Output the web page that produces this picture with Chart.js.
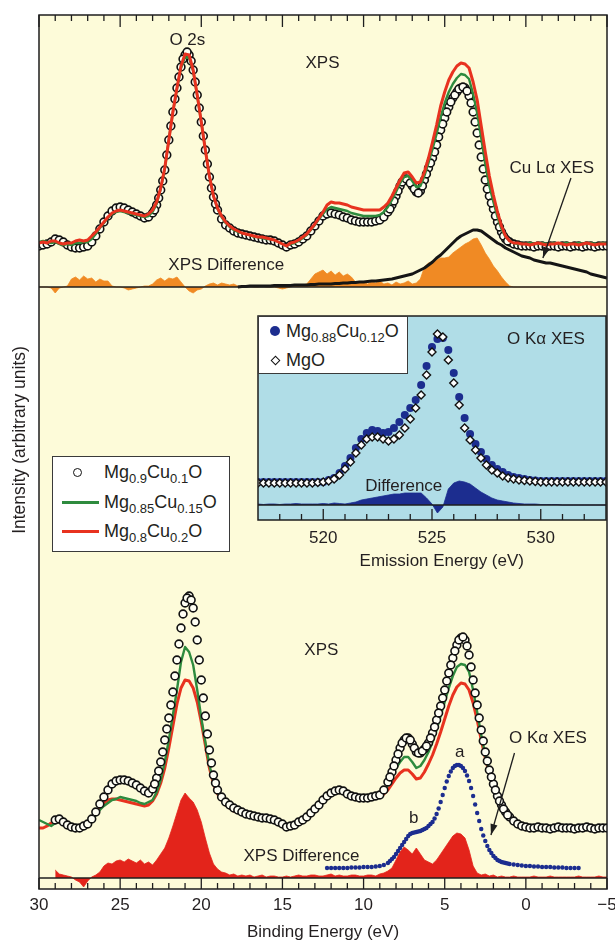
<!DOCTYPE html>
<html lang="en">
<head>
<meta charset="utf-8">
<title>XPS and XES spectra of Mg(1-x)Cu(x)O</title>
<script src="https://cdn.jsdelivr.net/npm/chart.js@4.4.1/dist/chart.umd.min.js"></script>
<style>
  html, body { margin: 0; padding: 0; background: #ffffff; }
  #figure { position: relative; width: 615px; height: 941px; overflow: hidden;
            font-family: "Liberation Sans", Arial, Helvetica, sans-serif; color: #231f20; }
  #figure canvas { position: absolute; left: 0; top: 0; }
  .key { position: absolute; background: #ffffff; border: 1px solid #3a3a3a; box-sizing: border-box; }
  .row { position: absolute; left: 0; width: 100%; height: 24px; }
  .label { position: absolute; top: 0; line-height: 24px; font-size: 18px; white-space: nowrap; }
  .label sub { font-size: 13px; vertical-align: -5px; line-height: 0; }
  .sym { position: absolute; top: 50%; box-sizing: border-box; }
</style>
</head>
<body>
<div id="figure">
  <canvas id="spectra" width="615" height="941"></canvas>
  <canvas id="oxygen" width="615" height="941"></canvas>

  <div class="key" style="left:52px;top:456px;width:178px;height:96px;">
    <div class="row" style="top:3px;">
      <span class="sym" style="left:20px;width:9px;height:9px;margin-top:-4.5px;border:1.5px solid #111;border-radius:50%;background:#fff;"></span>
      <span class="label" style="left:51px;">Mg<sub>0.9</sub>Cu<sub>0.1</sub>O</span>
    </div>
    <div class="row" style="top:33px;">
      <span class="sym" style="left:9px;width:37px;height:3px;margin-top:-1.5px;background:#2e8b3e;"></span>
      <span class="label" style="left:51px;">Mg<sub>0.85</sub>Cu<sub>0.15</sub>O</span>
    </div>
    <div class="row" style="top:62px;">
      <span class="sym" style="left:9px;width:37px;height:3px;margin-top:-1.5px;background:#e8321f;"></span>
      <span class="label" style="left:51px;">Mg<sub>0.8</sub>Cu<sub>0.2</sub>O</span>
    </div>
  </div>

  <div class="key" style="left:258px;top:316px;width:150px;height:58px;">
    <div class="row" style="top:2px;">
      <span class="sym" style="left:11px;width:10px;height:10px;margin-top:-5px;border-radius:50%;background:#1c2d8f;"></span>
      <span class="label" style="left:27px;">Mg<sub>0.88</sub>Cu<sub>0.12</sub>O</span>
    </div>
    <div class="row" style="top:31px;">
      <span class="sym" style="left:13px;width:7px;height:7px;margin-top:-3.5px;border:1.5px solid #111;background:#fff;transform:rotate(45deg);"></span>
      <span class="label" style="left:27px;">MgO</span>
    </div>
  </div>
</div>

<script>
// ---- Binding-energy grid shared by every XPS / XES trace (eV) ----
const bindingEnergy = [
  30, 29.75, 29.5, 29.25, 29, 28.75, 28.5, 28.25, 28, 27.75,
  27.5, 27.25, 27, 26.75, 26.5, 26.25, 26, 25.75, 25.5, 25.25,
  25, 24.75, 24.5, 24.25, 24, 23.75, 23.5, 23.25, 23, 22.75,
  22.5, 22.25, 22, 21.75, 21.5, 21.25, 21, 20.75, 20.5, 20.25,
  20, 19.75, 19.5, 19.25, 19, 18.75, 18.5, 18.25, 18, 17.75,
  17.5, 17.25, 17, 16.75, 16.5, 16.25, 16, 15.75, 15.5, 15.25,
  15, 14.75, 14.5, 14.25, 14, 13.75, 13.5, 13.25, 13, 12.75,
  12.5, 12.25, 12, 11.75, 11.5, 11.25, 11, 10.75, 10.5, 10.25,
  10, 9.75, 9.5, 9.25, 9, 8.75, 8.5, 8.25, 8, 7.75,
  7.5, 7.25, 7, 6.75, 6.5, 6.25, 6, 5.75, 5.5, 5.25,
  5, 4.75, 4.5, 4.25, 4, 3.75, 3.5, 3.25, 3, 2.75,
  2.5, 2.25, 2, 1.75, 1.5, 1.25, 1, 0.75, 0.5, 0.25,
  0, -0.25, -0.5, -0.75, -1, -1.25, -1.5, -1.75, -2, -2.25,
  -2.5, -2.75, -3, -3.25, -3.5, -3.75, -4, -4.25, -4.5, -4.75,
  -5
];
// Extra sampling energies of the Mg0.9Cu0.1O scans across the two main bands (eV)
const peakEnergy = [
  22.875, 22.625, 22.375, 22.125, 21.875, 21.625, 21.375, 21.125,
  20.875, 20.625, 20.375, 20.125, 19.875, 19.625, 19.375, 19.125,
  8.375, 8.125, 7.875, 7.625, 7.375, 7.125, 6.875, 6.625, 6.375, 6.125,
  5.875, 5.625, 5.375, 5.125, 4.875, 4.625, 4.375, 4.125, 3.875, 3.625,
  3.375, 3.125, 2.875, 2.625, 2.375, 2.125, 1.875, 1.625, 1.375, 1.125
];

// ---- Upper panel (intensity, arbitrary units) ----
const upperCu10 = [
  4.1, 4.2, 4.3, 4.5, 4.8, 4.7, 4.5, 4.2, 4.0, 3.9,
  3.9, 4.0, 4.1, 4.5, 5.1, 5.8, 6.5, 7.1, 7.6, 7.9,
  8.0, 7.9, 7.7, 7.5, 7.3, 7.1, 6.9, 7.0, 7.4, 8.2,
  9.7, 11.7, 14.7, 17.5, 19.9, 22.0, 23.2, 23.2, 21.7, 19.2,
  16.5, 13.7, 11.0, 9.0, 7.7, 6.8, 6.2, 5.9, 5.6, 5.4,
  5.3, 5.2, 5.1, 5.0, 4.9, 4.8, 4.7, 4.7, 4.6, 4.4,
  4.2, 4.0, 4.2, 4.3, 4.5, 4.8, 5.1, 5.6, 6.1, 6.6,
  7.1, 7.3, 7.4, 7.3, 7.2, 7.0, 6.9, 6.7, 6.6, 6.5,
  6.5, 6.5, 6.5, 6.6, 6.7, 7.0, 7.5, 8.2, 9.1, 10.1,
  10.7, 10.7, 10.1, 9.5, 9.6, 10.7, 11.9, 12.9, 14.2, 15.7,
  16.9, 18.0, 18.9, 19.5, 19.9, 19.9, 19.1, 17.5, 15.4, 13.0,
  10.7, 9.1, 7.8, 6.5, 5.5, 4.8, 4.5, 4.3, 4.2, 4.1,
  4.1, 4.1, 4.0, 4.1, 4.1, 4.0, 4.1, 4.1, 4.0, 4.1,
  4.1, 4.0, 4.1, 4.1, 4.0, 4.1, 4.1, 4.0, 4.1, 4.1,
  4.1
];
const upperCu10Peaks = [
  7.7, 8.9, 10.6, 13.2, 16.1, 18.8, 21.0, 22.8,
  23.5, 22.6, 20.5, 17.9, 15.1, 12.3, 9.9, 8.3,
  7.8, 8.6, 9.6, 10.5, 10.8, 10.4, 9.8, 9.4, 10.1, 11.3,
  12.4, 13.5, 15.0, 16.3, 17.5, 18.5, 19.2, 19.8, 20.0, 19.6,
  18.4, 16.5, 14.2, 11.8, 9.8, 8.4, 7.1, 6.0, 5.1, 4.6
];
const upperCu15 = [
  4.5, 4.6, 4.5, 4.4, 4.5, 4.3, 4.2, 4.3, 4.2, 4.4,
  4.4, 4.5, 4.5, 4.8, 5.3, 5.9, 6.4, 6.9, 7.3, 7.5,
  7.6, 7.5, 7.4, 7.3, 7.2, 7.1, 7.0, 7.1, 7.5, 8.3,
  9.8, 11.8, 14.7, 17.5, 19.8, 21.9, 23.0, 22.9, 21.6, 19.1,
  16.5, 13.7, 11.1, 9.1, 7.8, 7.0, 6.4, 6.0, 5.7, 5.5,
  5.4, 5.3, 5.2, 5.0, 5.0, 4.9, 4.8, 4.8, 4.7, 4.5,
  4.3, 4.1, 4.3, 4.4, 4.6, 4.9, 5.2, 5.7, 6.2, 6.8,
  7.3, 7.8, 8.0, 7.9, 7.8, 7.7, 7.6, 7.4, 7.3, 7.2,
  7.1, 7.1, 7.1, 7.1, 7.2, 7.5, 8.0, 8.7, 9.5, 10.4,
  11.0, 11.1, 10.6, 10.0, 10.1, 11.1, 12.4, 13.8, 15.3, 17.0,
  18.4, 19.5, 20.3, 20.9, 21.3, 21.2, 20.8, 19.3, 17.4, 14.9,
  12.3, 10.1, 8.5, 7.0, 5.8, 5.0, 4.6, 4.4, 4.3, 4.3,
  4.3, 4.4, 4.3, 4.3, 4.4, 4.3, 4.3, 4.4, 4.3, 4.3,
  4.4, 4.3, 4.3, 4.4, 4.3, 4.3, 4.4, 4.3, 4.3, 4.4,
  4.3
];
const upperCu20 = [
  4.4, 4.5, 4.4, 4.6, 4.6, 4.4, 4.3, 4.4, 4.4, 4.6,
  4.7, 4.6, 4.7, 5.1, 5.5, 6.0, 6.5, 7.0, 7.4, 7.6,
  7.7, 7.6, 7.5, 7.4, 7.3, 7.2, 7.1, 7.3, 7.7, 8.5,
  9.9, 11.9, 14.7, 17.5, 19.9, 22.1, 23.3, 23.2, 21.7, 19.2,
  16.5, 13.7, 11.1, 9.1, 7.9, 7.1, 6.5, 6.1, 5.8, 5.6,
  5.4, 5.3, 5.2, 5.1, 5.0, 5.0, 4.9, 4.8, 4.7, 4.5,
  4.3, 4.1, 4.4, 4.5, 4.7, 5.0, 5.3, 5.8, 6.3, 6.9,
  7.5, 8.2, 8.5, 8.4, 8.4, 8.3, 8.2, 8.0, 7.9, 7.8,
  7.7, 7.7, 7.7, 7.7, 7.7, 8.0, 8.4, 9.1, 9.9, 10.7,
  11.4, 11.5, 11.0, 10.4, 10.5, 11.5, 12.9, 14.5, 16.2, 18.1,
  19.5, 20.7, 21.5, 22.1, 22.4, 22.3, 21.9, 20.5, 18.7, 16.1,
  13.5, 11.1, 9.2, 7.5, 6.1, 5.1, 4.6, 4.4, 4.4, 4.3,
  4.3, 4.2, 4.3, 4.4, 4.3, 4.2, 4.3, 4.3, 4.4, 4.3,
  4.2, 4.3, 4.3, 4.2, 4.3, 4.4, 4.3, 4.2, 4.3, 4.3,
  4.3
];
const upperCuLaXes = [
  null, null, null, null, null, null, null, null, null, null,
  null, null, null, null, null, null, null, null, null, null,
  null, null, null, null, null, null, null, null, null, null,
  null, null, null, null, null, null, null, null, null, null,
  null, null, null, null, null, null, null, null, null, 0.0,
  0.05, 0.05, 0.1, 0.1, 0.1, 0.1, 0.1, 0.1, 0.15, 0.15,
  0.15, 0.15, 0.15, 0.2, 0.2, 0.2, 0.2, 0.25, 0.25, 0.3,
  0.3, 0.3, 0.3, 0.35, 0.35, 0.4, 0.4, 0.45, 0.45, 0.5,
  0.5, 0.55, 0.6, 0.6, 0.65, 0.7, 0.75, 0.8, 0.9, 1.0,
  1.1, 1.2, 1.3, 1.5, 1.7, 1.9, 2.2, 2.5, 2.9, 3.2,
  3.6, 4.0, 4.4, 4.8, 5.1, 5.3, 5.5, 5.7, 5.7, 5.6,
  5.3, 5.0, 4.7, 4.4, 4.2, 3.9, 3.7, 3.5, 3.3, 3.1,
  3.0, 2.9, 2.7, 2.6, 2.5, 2.4, 2.4, 2.3, 2.2, 2.1,
  2.0, 1.9, 1.8, 1.7, 1.6, 1.5, 1.3, 1.2, 1.1, 1.0,
  0.9
];
const upperDifference = [
  0, 0, 0, -0.1, -0.6, -0.1, 0, 0.1, 0.8, 1.0,
  0.7, 1.1, 0.8, 0.9, 0.5, 0.8, 0.6, 0.6, 0.1, 0,
  0, -0.1, -0.3, -0.2, -0.1, 0, 0.1, 0.1, 0.3, 0.7,
  0.9, 0.6, 0.9, 0.8, 1.0, 0.5, 0, -0.4, -0.6, -0.3,
  -0.2, 0.1, 0.3, 0.4, 0.2, 0.4, 0.3, 0.2, 0.3, 0.1,
  0.1, 0, 0.1, 0, 0, 0.1, 0, 0, 0, -0.1,
  -0.2, -0.1, 0, 0.1, 0.1, 0.2, 0.3, 0.8, 1.3, 1.5,
  1.7, 1.3, 1.6, 1.2, 1.5, 1.1, 1.3, 1.0, 0.5, 0.4,
  0.5, 0.3, 0.5, 0.4, 0.6, 0.3, 0.4, 0.2, 0.5, 0.3,
  0.4, 0.6, 0.3, 0.4, 0.8, 2.0, 2.4, 2.5, 2.7, 2.9,
  2.9, 3.0, 3.4, 3.7, 4.0, 4.3, 4.5, 4.8, 4.9, 4.2,
  3.4, 2.8, 2.1, 1.6, 1.0, 0.5, 0.1, 0, 0, 0,
  0, 0, 0, 0, 0, 0, 0, 0, 0, 0,
  0, 0, 0, 0, 0, 0, 0, 0, 0, 0,
  0
];

// ---- Lower panel (intensity, arbitrary units) ----
const lowerCu10 = [
  null, null, null, null, 5.8, 5.9, 5.6, 5.3, 5.1, 5.0,
  5.0, 5.2, 5.4, 5.9, 6.6, 7.4, 8.1, 8.8, 9.4, 9.7,
  9.8, 9.8, 9.7, 9.5, 9.3, 9.0, 8.7, 8.5, 8.9, 10.0,
  11.6, 13.8, 16.0, 18.6, 21.8, 25.0, 27.5, 28.2, 27.0, 23.8,
  19.8, 16.2, 12.8, 10.3, 8.8, 8.1, 7.6, 7.3, 7.0, 6.8,
  6.6, 6.4, 6.3, 6.2, 6.1, 6.0, 6.0, 5.9, 5.8, 5.6,
  5.4, 5.1, 5.2, 5.3, 5.6, 5.8, 6.1, 6.5, 6.9, 7.3,
  7.8, 8.2, 8.5, 8.7, 8.8, 8.7, 8.4, 8.2, 8.1, 8.0,
  8.0, 8.0, 8.1, 8.2, 8.3, 8.8, 9.6, 10.6, 11.8, 13.0,
  13.8, 14.0, 13.4, 12.6, 12.5, 12.9, 13.5, 14.5, 15.8, 17.2,
  18.8, 20.5, 22.0, 23.3, 24.0, 23.8, 22.3, 19.8, 17.3, 14.8,
  12.6, 10.8, 9.4, 8.2, 7.3, 6.6, 6.1, 5.7, 5.4, 5.2,
  5.1, 5.0, 5.0, 5.1, 5.0, 5.0, 4.9, 5.0, 5.1, 5.0,
  5.0, 5.0, 4.9, 5.0, 5.0, 5.1, 5.0, 4.9, 5.0, 5.0,
  5.0
];
const lowerCu10Peaks = [
  9.4, 10.7, 12.6, 14.9, 17.3, 20.2, 23.4, 26.4,
  28.0, 27.8, 25.6, 21.8, 18.0, 14.4, 11.5, 9.5,
  10.1, 11.2, 12.4, 13.5, 14.0, 13.8, 13.0, 12.5, 12.7, 13.2,
  14.0, 15.1, 16.5, 18.0, 19.7, 21.3, 22.7, 23.8, 24.1, 23.2,
  21.1, 18.5, 16.0, 13.7, 11.7, 10.1, 8.8, 7.7, 6.9, 6.3
];
const lowerCu15 = [
  5.8, 5.6, 5.4, 5.2, 5.5, 5.6, 5.6, 5.4, 5.2, 5.2,
  5.2, 5.3, 5.3, 5.7, 6.3, 6.8, 7.2, 7.5, 7.8, 7.9,
  8.1, 8.0, 7.9, 7.8, 7.7, 7.5, 7.4, 7.6, 7.8, 8.6,
  9.8, 11.6, 13.8, 16.3, 18.8, 21.6, 23.1, 22.6, 21.3, 18.8,
  16.0, 13.6, 11.3, 9.6, 8.5, 8.0, 7.5, 7.2, 7.0, 6.8,
  6.6, 6.5, 6.4, 6.3, 6.2, 6.1, 6.1, 6.0, 5.9, 5.8,
  5.6, 5.3, 5.4, 5.6, 5.8, 6.0, 6.3, 6.6, 7.0, 7.4,
  7.9, 8.3, 8.6, 8.8, 8.8, 8.7, 8.5, 8.3, 8.2, 8.1,
  8.1, 8.1, 8.1, 8.2, 8.3, 8.7, 9.3, 10.1, 11.0, 11.6,
  12.1, 12.1, 11.6, 11.0, 11.2, 11.8, 12.6, 13.6, 14.8, 16.2,
  17.6, 19.0, 20.2, 21.1, 21.4, 21.3, 20.6, 18.8, 16.6, 14.3,
  12.3, 10.6, 9.3, 8.1, 7.2, 6.5, 6.0, 5.7, 5.4, 5.2,
  5.2, 5.1, 5.1, 5.2, 5.1, 5.1, 5.2, 5.1, 5.1, 5.2,
  5.1, 5.1, 5.2, 5.1, 5.1, 5.2, 5.1, 5.1, 5.2, 5.1,
  5.1
];
const lowerCu20 = [
  5.0, 5.0, 5.2, 5.5, 5.7, 5.6, 5.4, 5.2, 5.1, 5.1,
  5.2, 5.3, 5.4, 5.8, 6.4, 7.0, 7.5, 7.8, 7.9, 7.9,
  7.8, 7.7, 7.6, 7.5, 7.4, 7.3, 7.2, 7.3, 7.7, 8.4,
  9.5, 11.0, 13.0, 15.2, 17.4, 19.0, 19.8, 19.7, 19.0, 17.6,
  15.6, 13.3, 11.0, 9.4, 8.4, 7.8, 7.3, 7.0, 6.7, 6.6,
  6.4, 6.2, 6.1, 6.0, 6.0, 5.9, 5.8, 5.7, 5.6, 5.5,
  5.3, 5.1, 5.2, 5.4, 5.7, 5.9, 6.2, 6.5, 6.9, 7.3,
  7.8, 8.2, 8.5, 8.7, 8.8, 8.7, 8.5, 8.3, 8.2, 8.1,
  8.0, 7.9, 7.9, 8.0, 8.1, 8.4, 8.8, 9.4, 10.0, 10.5,
  10.8, 10.8, 10.4, 9.9, 10.0, 10.6, 11.4, 12.3, 13.4, 14.6,
  15.9, 17.2, 18.3, 19.1, 19.5, 19.4, 18.8, 17.5, 15.8, 13.8,
  12.0, 10.4, 9.1, 8.1, 7.2, 6.6, 6.1, 5.7, 5.5, 5.3,
  5.2, 5.0, 5.0, 5.1, 5.0, 5.0, 5.0, 5.1, 5.0, 5.0,
  5.0, 5.1, 5.0, 5.0, 5.0, 5.1, 5.0, 5.0, 5.0, 5.1,
  5.0
];
const lowerOKaXes = [
  null, null, null, null, null, null, null, null, null, null,
  null, null, null, null, null, null, null, null, null, null,
  null, null, null, null, null, null, null, null, null, null,
  null, null, null, null, null, null, null, null, null, null,
  null, null, null, null, null, null, null, null, null, null,
  null, null, null, null, null, null, null, null, null, null,
  null, null, null, null, null, null, null, null, null, null,
  null, 1.0, 1.0, 1.0, 1.0, 1.0, 1.0, 1.05, 1.05, 1.05,
  1.1, 1.1, 1.1, 1.15, 1.2, 1.3, 1.5, 1.9, 2.4, 3.0,
  3.6, 4.2, 4.5, 4.6, 4.7, 4.9, 5.2, 5.6, 6.4, 7.6,
  9.0, 10.2, 11.0, 11.3, 11.2, 10.7, 9.7, 8.2, 6.5, 4.9,
  3.7, 2.8, 2.2, 1.8, 1.6, 1.5, 1.4, 1.35, 1.3, 1.25,
  1.2, 1.2, 1.15, 1.15, 1.1, 1.1, 1.1, 1.05, 1.05, 1.05,
  1.0, 1.0, 1.0, 1.0, null, null, null, null, null, null,
  null
];
// O K-alpha XES at the extra band energies (peakEnergy, entries 16 onward)
const lowerOKaXesPeaks = [
  null, null, null, null, null, null, null, null,
  null, null, null, null, null, null, null, null,
  1.7, 2.1, 2.7, 3.3, 3.9, 4.4, 4.55, 4.65, 4.8, 5.0,
  5.4, 5.95, 6.95, 8.3, 9.65, 10.65, 11.2, 11.3, 11.0, 10.25,
  9.0, 7.35, 5.7, 4.25, 3.2, 2.5, 2.0, 1.7, 1.55, 1.45
];
const lowerDifference = [
  null, null, null, null, 0.8, 0.4, 0.3, 0.2, 0.1, -0.2,
  -0.4, -0.9, -0.3, 0.1, 0.3, 0.6, 1.2, 1.5, 1.4, 1.7,
  1.8, 1.6, 1.9, 1.7, 1.5, 1.8, 1.4, 1.6, 1.3, 1.8,
  2.4, 3.0, 4.0, 5.2, 6.5, 7.8, 8.5, 8.0, 7.6, 6.8,
  5.6, 4.0, 2.5, 1.4, 0.9, 0.6, 0.5, 0.3, 0.4, 0.2,
  0.3, 0.2, 0.3, 0.1, 0.2, 0.3, 0.1, 0.2, 0.2, 0.1,
  0.1, 0.2, 0.1, 0.2, 0.3, 0.2, 0.2, 0.3, 0.3, 0.2,
  0.2, 0.3, 0.4, 0.2, 0.3, 0.2, 0.2, 0.3, 0.3, 0.2,
  0.2, 0.3, 0.3, 0.2, 0.4, 0.5, 0.7, 1.0, 1.8, 2.6,
  3.1, 2.8, 2.4, 3.0, 2.4, 1.8, 1.6, 1.4, 1.8, 2.4,
  3.0, 3.6, 4.2, 4.5, 4.4, 4.0, 2.8, 1.2, 0.5, 0.3,
  0.4, 0.2, 0.3, 0.1, 0.2, 0.1, 0.1, 0.2, 0.1, 0.1,
  0.1, 0.1, 0.2, 0.1, 0.1, 0.1, 0.2, 0.1, 0.1, 0.1,
  0.1, 0.1, 0.1, 0.2, 0.1, 0.1, 0.1, 0.1, 0.2, 0.1,
  0.1
];

// ---- O K-alpha emission spectra (inset) ----
const emissionEnergy = [
  517, 517.25, 517.5, 517.75, 518, 518.25, 518.5, 518.75, 519, 519.25,
  519.5, 519.75, 520, 520.25, 520.5, 520.75, 521, 521.25, 521.5, 521.75,
  522, 522.25, 522.5, 522.75, 523, 523.25, 523.5, 523.75, 524, 524.25,
  524.5, 524.75, 525, 525.25, 525.5, 525.75, 526, 526.25, 526.5, 526.75,
  527, 527.25, 527.5, 527.75, 528, 528.25, 528.5, 528.75, 529, 529.25,
  529.5, 529.75, 530, 530.25, 530.5, 530.75, 531, 531.25, 531.5, 531.75,
  532, 532.25, 532.5, 532.75, 533
];
const xesMgCuO = [
  2.3, 2.3, 2.3, 2.3, 2.3, 2.3, 2.3, 2.3, 2.3, 2.3,
  2.3, 2.3, 2.3, 2.5, 2.7, 3.2, 3.9, 4.7, 5.7, 6.6,
  7.2, 7.5, 7.4, 7.2, 7.3, 7.7, 8.3, 9.0, 9.7, 10.5,
  12.0, 13.9, 15.8, 16.6, 16.7, 15.5, 13.2, 10.8, 8.7, 7.1,
  6.1, 5.3, 4.6, 4.0, 3.6, 3.3, 3.0, 2.8, 2.7, 2.6,
  2.5, 2.45, 2.4, 2.4, 2.4, 2.4, 2.4, 2.4, 2.4, 2.4,
  2.4, 2.4, 2.4, 2.4, 2.4
];
const xesMgO = [
  2.2, 2.2, 2.2, 2.2, 2.2, 2.2, 2.2, 2.2, 2.2, 2.2,
  2.2, 2.25, 2.3, 2.4, 2.6, 3.0, 3.6, 4.3, 5.2, 6.0,
  6.6, 6.8, 6.8, 6.6, 6.4, 6.6, 7.0, 7.7, 8.6, 9.7,
  11.0, 13.0, 15.3, 17.1, 16.8, 14.5, 12.2, 10.0, 7.7, 6.5,
  5.5, 4.7, 4.0, 3.5, 3.2, 2.9, 2.7, 2.6, 2.5, 2.45,
  2.4, 2.35, 2.3, 2.3, 2.3, 2.3, 2.3, 2.3, 2.3, 2.3,
  2.3, 2.3, 2.3, 2.3, 2.3
];
const xesDifference = [
  0.1, 0.05, 0.1, 0.1, 0.05, 0.1, 0.1, 0.15, 0.1, 0.1,
  0.1, 0.1, 0.15, 0.1, 0.2, 0.15, 0.1, 0.2, 0.3, 0.5,
  0.6, 0.7, 0.8, 0.9, 1.0, 1.1, 1.1, 1.2, 1.2, 1.2,
  1.2, 0.7, 0.1, -0.8, -0.2, 1.6, 2.2, 2.4, 2.3, 2.1,
  1.7, 1.3, 1.0, 0.7, 0.5, 0.4, 0.3, 0.2, 0.15, 0.1,
  0.1, 0.1, 0.05, 0.05, 0.05, 0.05, 0, 0, 0, 0,
  0, 0, 0, 0, 0
];

// ---- Axis ticks ----
const bindingTicks = [30, 25, 20, 15, 10, 5, 0, -5];
const bindingTickLabels = ['30', '25', '20', '15', '10', '5', '0', '\u22125'];
const emissionTicks = [520, 525, 530];
const emissionTickLabels = ['520', '525', '530'];

// ---- Text placed in data coordinates ----
const upperNotes = [
  { text: 'O 2s', e: 20.86, v: 24.7 },
  { text: 'XPS', e: 12.53, v: 22.4 },
  { text: 'Cu L\u03B1 XES', e: -1.6, v: 11.9 },
  { text: 'XPS Difference', e: 18.46, v: 2.2 }
];
const lowerNotes = [
  { text: 'XPS', e: 12.6, v: 22.8 },
  { text: 'O K\u03B1 XES', e: -1.36, v: 14.0 },
  { text: 'a', e: 4.07, v: 12.6 },
  { text: 'b', e: 6.91, v: 6.0 },
  { text: 'XPS Difference', e: 13.83, v: 2.2 }
];
const insetNotes = [
  { text: 'O K\u03B1 XES', e: 530.24, v: 16.6 },
  { text: 'Difference', e: 523.7, v: 1.9 }
];

const PAPER = '#fdfbd9';
const SKY = '#b0dde7';
const INK = '#1e1e1e';
const FONT = '"Liberation Sans", Arial, Helvetica, sans-serif';
const TEXT = '#231f20';

const toPoints = (xs, ys) => xs.map((x, i) => ({ x, y: ys[i] }));

function drawArrow(ctx, x1, y1, x2, y2) {
  ctx.beginPath(); ctx.moveTo(x1, y1); ctx.lineTo(x2, y2); ctx.stroke();
  const a = Math.atan2(y2 - y1, x2 - x1), L = 11, W = 3.6;
  const bx = x2 - L * Math.cos(a), by = y2 - L * Math.sin(a);
  ctx.beginPath();
  ctx.moveTo(x2, y2);
  ctx.lineTo(bx + W * Math.sin(a), by - W * Math.cos(a));
  ctx.lineTo(bx - W * Math.sin(a), by + W * Math.cos(a));
  ctx.closePath(); ctx.fill();
}

function hLine(ctx, x1, x2, y) {
  ctx.beginPath(); ctx.moveTo(x1, y); ctx.lineTo(x2, y); ctx.stroke();
}
function vLine(ctx, x, y1, y2) {
  ctx.beginPath(); ctx.moveTo(x, y1); ctx.lineTo(x, y2); ctx.stroke();
}

// Frame, inward ticks, labels and annotations of the two XPS panels
const spectraDecor = {
  id: 'spectraDecor',
  beforeDatasetsDraw(chart) {
    const { ctx, chartArea: a } = chart;
    ctx.save();
    ctx.fillStyle = PAPER;
    ctx.fillRect(a.left, a.top, a.right - a.left, a.bottom - a.top);
    ctx.restore();
  },
  afterDraw(chart) {
    const { ctx, chartArea: a } = chart;
    const { x, yTop, yBot } = chart.scales;
    ctx.save();
    ctx.strokeStyle = INK;
    ctx.lineWidth = 1.5;
    hLine(ctx, a.left, a.right, yTop.getPixelForValue(0));
    hLine(ctx, a.left, a.right, yBot.getPixelForValue(0));
    ctx.strokeRect(a.left, a.top, a.right - a.left, a.bottom - a.top);

    ctx.lineWidth = 1.3;
    for (let e = Math.ceil(x.min); e <= x.max; e++) {
      const px = x.getPixelForValue(e);
      const major = bindingTicks.includes(e);
      vLine(ctx, px, a.top, a.top + (major ? 12 : 6));
      vLine(ctx, px, a.bottom, a.bottom - (major ? 11 : 6));
    }

    ctx.fillStyle = TEXT;
    ctx.font = '17px ' + FONT;
    ctx.textAlign = 'center';
    ctx.textBaseline = 'middle';
    bindingTicks.forEach((t, i) => ctx.fillText(bindingTickLabels[i], x.getPixelForValue(t), a.bottom + 16));
    ctx.fillText('Binding Energy (eV)', (a.left + a.right) / 2, a.bottom + 43);

    ctx.save();
    ctx.translate(20, 440);
    ctx.rotate(-Math.PI / 2);
    ctx.font = '17.5px ' + FONT;
    ctx.fillText('Intensity (arbitrary units)', 0, 0);
    ctx.restore();

    upperNotes.forEach(n => ctx.fillText(n.text, x.getPixelForValue(n.e), yTop.getPixelForValue(n.v)));
    lowerNotes.forEach(n => ctx.fillText(n.text, x.getPixelForValue(n.e), yBot.getPixelForValue(n.v)));

    ctx.strokeStyle = INK;
    ctx.fillStyle = INK;
    ctx.lineWidth = 1.3;
    drawArrow(ctx, x.getPixelForValue(-2.78), yTop.getPixelForValue(10.9),
                   x.getPixelForValue(-1.05), yTop.getPixelForValue(2.9));
    drawArrow(ctx, x.getPixelForValue(0.7), yBot.getPixelForValue(12.5),
                   x.getPixelForValue(2.15), yBot.getPixelForValue(4.3));
    ctx.restore();
  }
};

const openCircle = {
  showLine: false, pointStyle: 'circle', pointRadius: 3.9, pointBorderWidth: 1.6,
  pointBorderColor: '#111111', pointBackgroundColor: '#fffff4'
};
const plainLine = { pointRadius: 0, tension: 0, borderJoinStyle: 'round' };

new Chart(document.getElementById('spectra'), {
  type: 'line',
  data: {
    datasets: [
      { label: 'Mg0.8Cu0.2O (upper)', data: toPoints(bindingEnergy, upperCu20), yAxisID: 'yTop',
        borderColor: '#e8321f', borderWidth: 3, order: 1, ...plainLine },
      { label: 'Mg0.85Cu0.15O (upper)', data: toPoints(bindingEnergy, upperCu15), yAxisID: 'yTop',
        borderColor: '#2e8b3e', borderWidth: 2.4, order: 2, ...plainLine },
      { label: 'Mg0.9Cu0.1O (upper)', yAxisID: 'yTop', order: 3, ...openCircle,
        data: toPoints(bindingEnergy, upperCu10).concat(toPoints(peakEnergy, upperCu10Peaks)) },
      { label: 'Cu L\u03B1 XES', data: toPoints(bindingEnergy, upperCuLaXes), yAxisID: 'yTop',
        borderColor: '#151515', borderWidth: 3, order: 4, ...plainLine },
      { label: 'XPS difference (upper)', data: toPoints(bindingEnergy, upperDifference), yAxisID: 'yTop',
        borderColor: '#f08a24', backgroundColor: '#f08a24', borderWidth: 0.8, fill: 'origin',
        order: 5, ...plainLine },

      { label: 'Mg0.9Cu0.1O (lower)', yAxisID: 'yBot', order: 1, ...openCircle,
        data: toPoints(bindingEnergy, lowerCu10).concat(toPoints(peakEnergy, lowerCu10Peaks)) },
      { label: 'Mg0.85Cu0.15O (lower)', data: toPoints(bindingEnergy, lowerCu15), yAxisID: 'yBot',
        borderColor: '#2e8b3e', borderWidth: 2.4, order: 2, ...plainLine },
      { label: 'Mg0.8Cu0.2O (lower)', data: toPoints(bindingEnergy, lowerCu20), yAxisID: 'yBot',
        borderColor: '#e8321f', borderWidth: 3, order: 3, ...plainLine },
      { label: 'O K\u03B1 XES', yAxisID: 'yBot',
        data: toPoints(bindingEnergy, lowerOKaXes).concat(toPoints(peakEnergy, lowerOKaXesPeaks)),
        showLine: false, pointStyle: 'circle', pointRadius: 2.2, pointBorderWidth: 0,
        pointBackgroundColor: '#1c2d8f', order: 4 },
      { label: 'XPS difference (lower)', data: toPoints(bindingEnergy, lowerDifference), yAxisID: 'yBot',
        borderColor: '#e3241b', backgroundColor: '#e3241b', borderWidth: 0.8, fill: 'origin',
        order: 5, ...plainLine }
    ]
  },
  options: {
    responsive: false,
    animation: false,
    events: [],
    layout: { padding: { left: 39, top: 15, right: 8, bottom: 52 } },
    plugins: { legend: { display: false }, tooltip: { enabled: false } },
    scales: {
      x: { type: 'linear', min: -5, max: 30, reverse: true, display: false },
      yTop: { type: 'linear', min: -60.2, max: 27.2, display: false },
      yBot: { type: 'linear', min: -1.1, max: 86.3, display: false }
    }
  },
  plugins: [spectraDecor]
});

// Inset: O K-alpha emission spectra
const insetDecor = {
  id: 'insetDecor',
  beforeDatasetsDraw(chart) {
    const { ctx, chartArea: a } = chart;
    ctx.save();
    ctx.fillStyle = SKY;
    ctx.fillRect(a.left, a.top, a.right - a.left, a.bottom - a.top);
    ctx.restore();
  },
  afterDraw(chart) {
    const { ctx, chartArea: a } = chart;
    const { x, y } = chart.scales;
    ctx.save();
    ctx.strokeStyle = INK;
    ctx.lineWidth = 1.5;
    hLine(ctx, a.left, a.right, y.getPixelForValue(0));
    ctx.strokeRect(a.left, a.top, a.right - a.left, a.bottom - a.top);
    ctx.lineWidth = 1.3;
    for (let e = Math.ceil(x.min) + 1; e < x.max; e++) {
      const major = emissionTicks.includes(e);
      vLine(ctx, x.getPixelForValue(e), a.bottom, a.bottom - (major ? 11 : 6));
    }
    ctx.fillStyle = TEXT;
    ctx.font = '17px ' + FONT;
    ctx.textAlign = 'center';
    ctx.textBaseline = 'middle';
    emissionTicks.forEach((t, i) => ctx.fillText(emissionTickLabels[i], x.getPixelForValue(t), a.bottom + 18));
    ctx.fillText('Emission Energy (eV)', x.getPixelForValue(525.45), a.bottom + 41);
    insetNotes.forEach(n => ctx.fillText(n.text, x.getPixelForValue(n.e), y.getPixelForValue(n.v)));
    ctx.restore();
  }
};

new Chart(document.getElementById('oxygen'), {
  type: 'line',
  data: {
    datasets: [
      { label: 'MgO', data: toPoints(emissionEnergy, xesMgO), showLine: false,
        pointStyle: 'rectRot', pointRadius: 4, pointBorderWidth: 1.4,
        pointBorderColor: '#111111', pointBackgroundColor: '#ffffff', order: 1 },
      { label: 'Mg0.88Cu0.12O', data: toPoints(emissionEnergy, xesMgCuO), showLine: false,
        pointStyle: 'circle', pointRadius: 4, pointBorderWidth: 0,
        pointBackgroundColor: '#1c2d8f', order: 2 },
      { label: 'Difference', data: toPoints(emissionEnergy, xesDifference),
        borderColor: '#1c2d8f', backgroundColor: '#1c2d8f', borderWidth: 0.8, fill: 'origin',
        pointRadius: 0, tension: 0, order: 3 }
    ]
  },
  options: {
    responsive: false,
    animation: false,
    events: [],
    layout: { padding: { left: 258, top: 316, right: 9, bottom: 421 } },
    plugins: { legend: { display: false }, tooltip: { enabled: false } },
    scales: {
      x: { type: 'linear', min: 517, max: 533, display: false },
      y: { type: 'linear', min: -1.5, max: 18.9, display: false }
    }
  },
  plugins: [insetDecor]
});
</script>
</body>
</html>
